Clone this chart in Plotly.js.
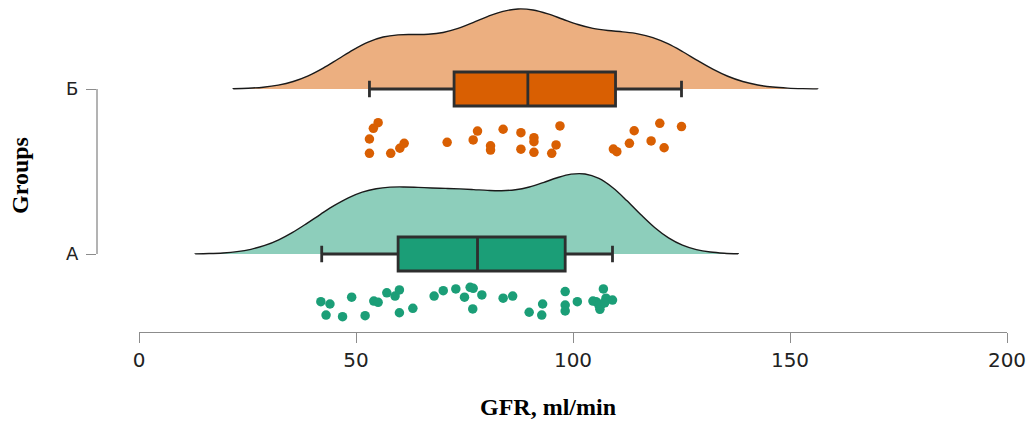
<!DOCTYPE html>
<html>
<head>
<meta charset="utf-8">
<script src="https://cdn.plot.ly/plotly-3.0.1.min.js"></script>
<style>html,body{margin:0;padding:0;background:#fff;}#chart{width:1030px;height:423px;}</style>
</head>
<body>
<div id="chart"></div>
<script>
// ---- data ----
const groupLabels = ['А', 'Б'];
const groupPositions = [0, 1];
const xTickValues = [0, 50, 100, 150, 200];

// individual GFR values (ml/min)
const gfrA = [41.9, 44.0, 49.0, 43.1, 46.9, 52.1, 54.1, 55.1, 57.1, 59.0, 60.0, 60.0,
  63.1, 68.0, 70.1, 73.0, 75.0, 76.3, 77.0, 79.0, 76.9, 83.9, 86.1, 89.9, 93.0, 92.8,
  98.2, 98.2, 98.2, 101.0, 107.0, 105.3, 107.6, 109.1, 106.2, 106.6, 104.6, 106.0, 107.3];
// vertical jitter offsets of the dots (group units, as seen in the picture)
const jitterA = [-0.289, -0.303, -0.262, -0.370, -0.380, -0.374, -0.285, -0.293, -0.235,
  -0.255, -0.218, -0.356, -0.329, -0.255, -0.222, -0.212, -0.262, -0.202, -0.208, -0.248,
  -0.333, -0.268, -0.255, -0.353, -0.303, -0.370, -0.228, -0.309, -0.345, -0.289, -0.212,
  -0.289, -0.268, -0.279, -0.335, -0.303, -0.285, -0.312, -0.296];

const gfrB = [55.1, 54.0, 53.1, 53.1, 58.0, 60.1, 61.1, 71.0, 77.0, 78.0, 81.0, 81.0,
  83.9, 88.0, 88.0, 91.0, 91.0, 91.0, 97.0, 96.1, 95.1, 109.3, 110.1, 114.1, 113.0,
  120.0, 118.0, 121.0, 125.0];
const jitterB = [-0.204, -0.238, -0.303, -0.390, -0.390, -0.359, -0.329, -0.323, -0.309,
  -0.255, -0.344, -0.370, -0.244, -0.265, -0.365, -0.295, -0.319, -0.384, -0.224, -0.339,
  -0.390, -0.364, -0.380, -0.253, -0.329, -0.208, -0.315, -0.356, -0.228];

// box statistics as drawn (A, Б)
const boxQ1 = [59.7, 72.6];
const boxMedian = [78.0, 89.6];
const boxQ3 = [98.2, 109.8];
const boxLower = [42.1, 53.1];
const boxUpper = [109.1, 125.0];

// ---- styling ----
const dark = ['#1B9E77', '#D95F02'];
const light = ['#8DCEBB', '#ECAF80'];

// R's bw.nrd0 bandwidth
function quantile7(sorted, p) {
  const h = (sorted.length - 1) * p, lo = Math.floor(h), hi = Math.ceil(h);
  return sorted[lo] + (h - lo) * (sorted[hi] - sorted[lo]);
}
function nrd0(v) {
  const n = v.length, mean = v.reduce((a, b) => a + b, 0) / n;
  const sd = Math.sqrt(v.reduce((a, b) => a + (b - mean) * (b - mean), 0) / (n - 1));
  const s = v.slice().sort((a, b) => a - b);
  const iqr = quantile7(s, 0.75) - quantile7(s, 0.25);
  return 0.9 * Math.min(sd, iqr / 1.34) * Math.pow(n, -0.2);
}

const values = [gfrA, gfrB];
const jitters = [jitterA, jitterB];
const traces = [];

values.forEach((v, i) => {
  const bw = nrd0(v);
  traces.push({
    type: 'violin', orientation: 'h', x: v, y0: groupPositions[i],
    side: 'positive', width: 0.97, bandwidth: bw,
    spanmode: 'manual', span: [Math.min(...v) - 3 * bw, Math.max(...v) + 3 * bw],
    fillcolor: light[i], line: {color: '#1a1a1a', width: 1.4},
    points: false, box: {visible: false}, meanline: {visible: false},
    hoverinfo: 'skip', showlegend: false
  });
});
values.forEach((v, i) => {
  traces.push({
    type: 'box', orientation: 'h', y: [groupPositions[i]],
    q1: [boxQ1[i]], median: [boxMedian[i]], q3: [boxQ3[i]],
    lowerfence: [boxLower[i]], upperfence: [boxUpper[i]],
    width: 0.206, whiskerwidth: 0.48,
    fillcolor: dark[i], line: {color: '#2e2e2e', width: 2.8},
    boxpoints: false, hoverinfo: 'skip', showlegend: false
  });
});
values.forEach((v, i) => {
  traces.push({
    type: 'scatter', mode: 'markers', x: v,
    y: jitters[i].map(j => groupPositions[i] + j),
    marker: {color: dark[i], size: 9.5},
    cliponaxis: false, hoverinfo: 'skip', showlegend: false
  });
});
// carrier for the group axis (no visible marks)
traces.push({
  type: 'scatter', mode: 'markers', x: groupPositions.map(() => null), y: groupPositions,
  yaxis: 'y2', hoverinfo: 'skip', showlegend: false
});

// ---- layout (pixel geometry of the picture) ----
const W = 1030, H = 423;
const mL = 96, mR = 23, mT = 0, mB = 91;
const plotW = W - mL - mR, plotH = H - mT - mB;
const xStartPx = 139;
const pxPerUnit = 165, yA_px = 254, yB_px = 89;
const yMin = (yA_px - (H - mB)) / pxPerUnit;
const yMax = (yA_px - mT) / pxPerUnit;
const toPaperY = px => ((H - mB) - px) / plotH;
const toPaperX = px => (px - mL) / plotW;

const layout = {
  width: W, height: H,
  margin: {l: mL, r: mR, t: mT, b: mB, pad: 0},
  paper_bgcolor: '#ffffff', plot_bgcolor: 'rgba(0,0,0,0)',
  showlegend: false, boxmode: 'overlay', violinmode: 'overlay',
  xaxis: {
    domain: [toPaperX(xStartPx), 1], range: [0, 200],
    tickvals: xTickValues, ticks: 'outside', ticklen: 10, tickwidth: 1, tickcolor: '#8c8c8c',
    showline: true, linecolor: '#8c8c8c', linewidth: 1,
    showgrid: false, zeroline: false, automargin: false,
    tickfont: {family: 'DejaVu Sans', size: 20, color: '#222'}
  },
  yaxis: {
    domain: [0, 1], range: [yMin, yMax], visible: false, fixedrange: true
  },
  yaxis2: {
    domain: [toPaperY(yA_px), toPaperY(yB_px)], range: [0, 1],
    anchor: 'free', position: 0,
    tickvals: groupPositions, ticktext: groupLabels,
    ticks: 'outside', ticklen: 10, tickwidth: 1, tickcolor: '#8c8c8c',
    ticklabelstandoff: 4,
    showline: true, linecolor: '#b3b3b3', linewidth: 1.5,
    showgrid: false, zeroline: false, automargin: false,
    tickfont: {family: 'DejaVu Sans', size: 18, color: '#222'}
  },
  annotations: [
    {text: 'GFR, ml/min', xref: 'paper', yref: 'paper', x: toPaperX(548), y: toPaperY(407),
     xanchor: 'center', yanchor: 'middle', showarrow: false,
     font: {family: 'Liberation Serif', size: 24, color: '#000', weight: 'bold'}},
    {text: 'Groups', xref: 'paper', yref: 'paper', x: toPaperX(20), y: toPaperY(176),
     xanchor: 'center', yanchor: 'middle', showarrow: false, textangle: -90,
     font: {family: 'Liberation Serif', size: 24, color: '#000', weight: 'bold'}}
  ]
};

Plotly.newPlot('chart', traces, layout, {staticPlot: true, displayModeBar: false});
</script>
</body>
</html>
